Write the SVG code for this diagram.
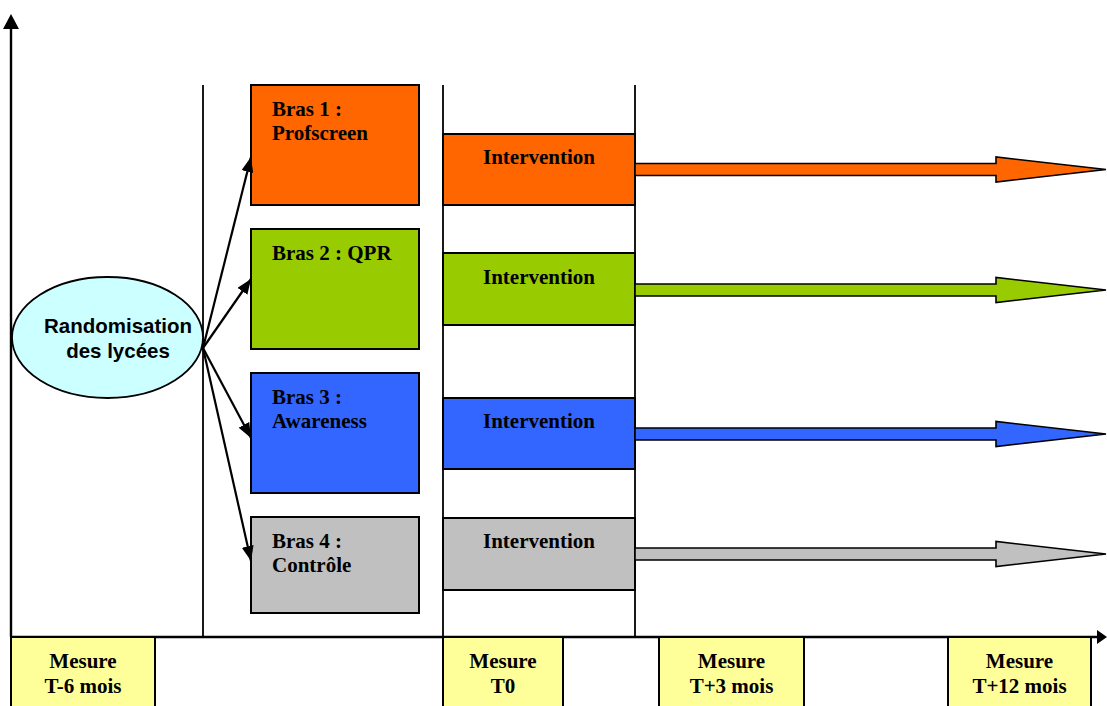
<svg xmlns="http://www.w3.org/2000/svg" width="1107" height="706" viewBox="0 0 1107 706">
<style>
.ser{font-family:"Liberation Serif","Times New Roman",serif;font-weight:bold;font-size:21px;fill:#000}
.san{font-family:"Liberation Sans",Arial,sans-serif;font-weight:bold;font-size:20.5px;fill:#000}
.box{stroke:#000;stroke-width:2}
.axis{stroke:#000;stroke-width:2.4;fill:none}
.vl{stroke:#000;stroke-width:1.8;fill:none}
.con{stroke:#000;stroke-width:2.2;fill:none}
.big{stroke:#000;stroke-width:1.6}
.mid{text-anchor:middle}
</style>
<defs>
<marker id="ah" viewBox="0 0 15 12" refX="15" refY="6" markerWidth="15" markerHeight="12" markerUnits="userSpaceOnUse" orient="auto">
<path d="M0,0 L15,6 L0,12 Z" fill="#000"/>
</marker>
</defs>
<rect width="1107" height="706" fill="#fff"/>
<g id="separators">
<line class="vl" x1="203" y1="85" x2="203" y2="637"/>
<line class="vl" x1="443" y1="85" x2="443" y2="637"/>
<line class="vl" x1="635" y1="85" x2="635" y2="637"/>
</g>
<g id="axes">
<line class="axis" x1="11" y1="637" x2="11" y2="28"/>
<polygon points="11,14 3,29 19,29" fill="#000"/>
<line class="axis" x1="11" y1="637" x2="1098" y2="637"/>
<polygon points="1107,637 1097,630 1097,644" fill="#000"/>
</g>
<g id="ellipse-node">
<ellipse cx="107.5" cy="337.5" rx="95.5" ry="60.5" fill="#CCFFFF" stroke="#000" stroke-width="1.8"/>
<text class="san mid" x="118" y="333">Randomisation</text>
<text class="san mid" x="118" y="358">des lycées</text>
</g>
<g id="bras1">
<rect class="box" x="251" y="85" width="168" height="120" fill="#FF6600"/>
<text class="ser" x="272" y="116">Bras 1 :</text>
<text class="ser" x="272" y="140">Profscreen</text>
</g>
<g id="bras2">
<rect class="box" x="251" y="229" width="168" height="120" fill="#99CC00"/>
<text class="ser" x="272" y="260">Bras 2 : QPR</text>
</g>
<g id="bras3">
<rect class="box" x="251" y="373" width="168" height="120" fill="#3366FF"/>
<text class="ser" x="272" y="404">Bras 3 :</text>
<text class="ser" x="272" y="428">Awareness</text>
</g>
<g id="bras4">
<rect class="box" x="251" y="517" width="168" height="96" fill="#C0C0C0"/>
<text class="ser" x="272" y="548">Bras 4 :</text>
<text class="ser" x="272" y="572">Contrôle</text>
</g>
<g id="intervention1">
<rect class="box" x="443" y="134" width="192" height="71" fill="#FF6600"/>
<text class="ser mid" x="539" y="164">Intervention</text>
</g>
<g id="intervention2">
<rect class="box" x="443" y="253" width="192" height="72" fill="#99CC00"/>
<text class="ser mid" x="539" y="284">Intervention</text>
</g>
<g id="intervention3">
<rect class="box" x="443" y="398" width="192" height="71" fill="#3366FF"/>
<text class="ser mid" x="539" y="428">Intervention</text>
</g>
<g id="intervention4">
<rect class="box" x="443" y="518" width="192" height="72" fill="#C0C0C0"/>
<text class="ser mid" x="539" y="548">Intervention</text>
</g>
<g id="mesure1">
<rect class="box" x="11" y="637" width="144" height="80" fill="#FFFF99"/>
<text class="ser mid" x="83" y="668">Mesure</text>
<text class="ser mid" x="83" y="693">T-6 mois</text>
</g>
<g id="mesure2">
<rect class="box" x="443" y="637" width="120" height="80" fill="#FFFF99"/>
<text class="ser mid" x="503" y="668">Mesure</text>
<text class="ser mid" x="503" y="693">T0</text>
</g>
<g id="mesure3">
<rect class="box" x="659" y="637" width="145" height="80" fill="#FFFF99"/>
<text class="ser mid" x="731.5" y="668">Mesure</text>
<text class="ser mid" x="731.5" y="693">T+3 mois</text>
</g>
<g id="mesure4">
<rect class="box" x="948" y="637" width="143" height="80" fill="#FFFF99"/>
<text class="ser mid" x="1019.5" y="668">Mesure</text>
<text class="ser mid" x="1019.5" y="693">T+12 mois</text>
</g>
<g id="connectors">
<line class="con" x1="203" y1="348" x2="251" y2="157" marker-end="url(#ah)"/>
<line class="con" x1="203" y1="348" x2="251" y2="279" marker-end="url(#ah)"/>
<line class="con" x1="203" y1="348" x2="251" y2="438" marker-end="url(#ah)"/>
<line class="con" x1="203" y1="348" x2="251" y2="561" marker-end="url(#ah)"/>
<polygon class="big" fill="#FF6600" points="635,163.5 996,163.5 996,157 1106,169.5 996,182 996,175.5 635,175.5"/>
<polygon class="big" fill="#99CC00" points="635,284 996,284 996,277.5 1106,290 996,302.5 996,296 635,296"/>
<polygon class="big" fill="#3366FF" points="635,428 996,428 996,421.5 1106,434 996,446.5 996,440 635,440"/>
<polygon class="big" fill="#C0C0C0" points="635,548 996,548 996,541.5 1106,554 996,566.5 996,560 635,560"/>
</g>
</svg>
